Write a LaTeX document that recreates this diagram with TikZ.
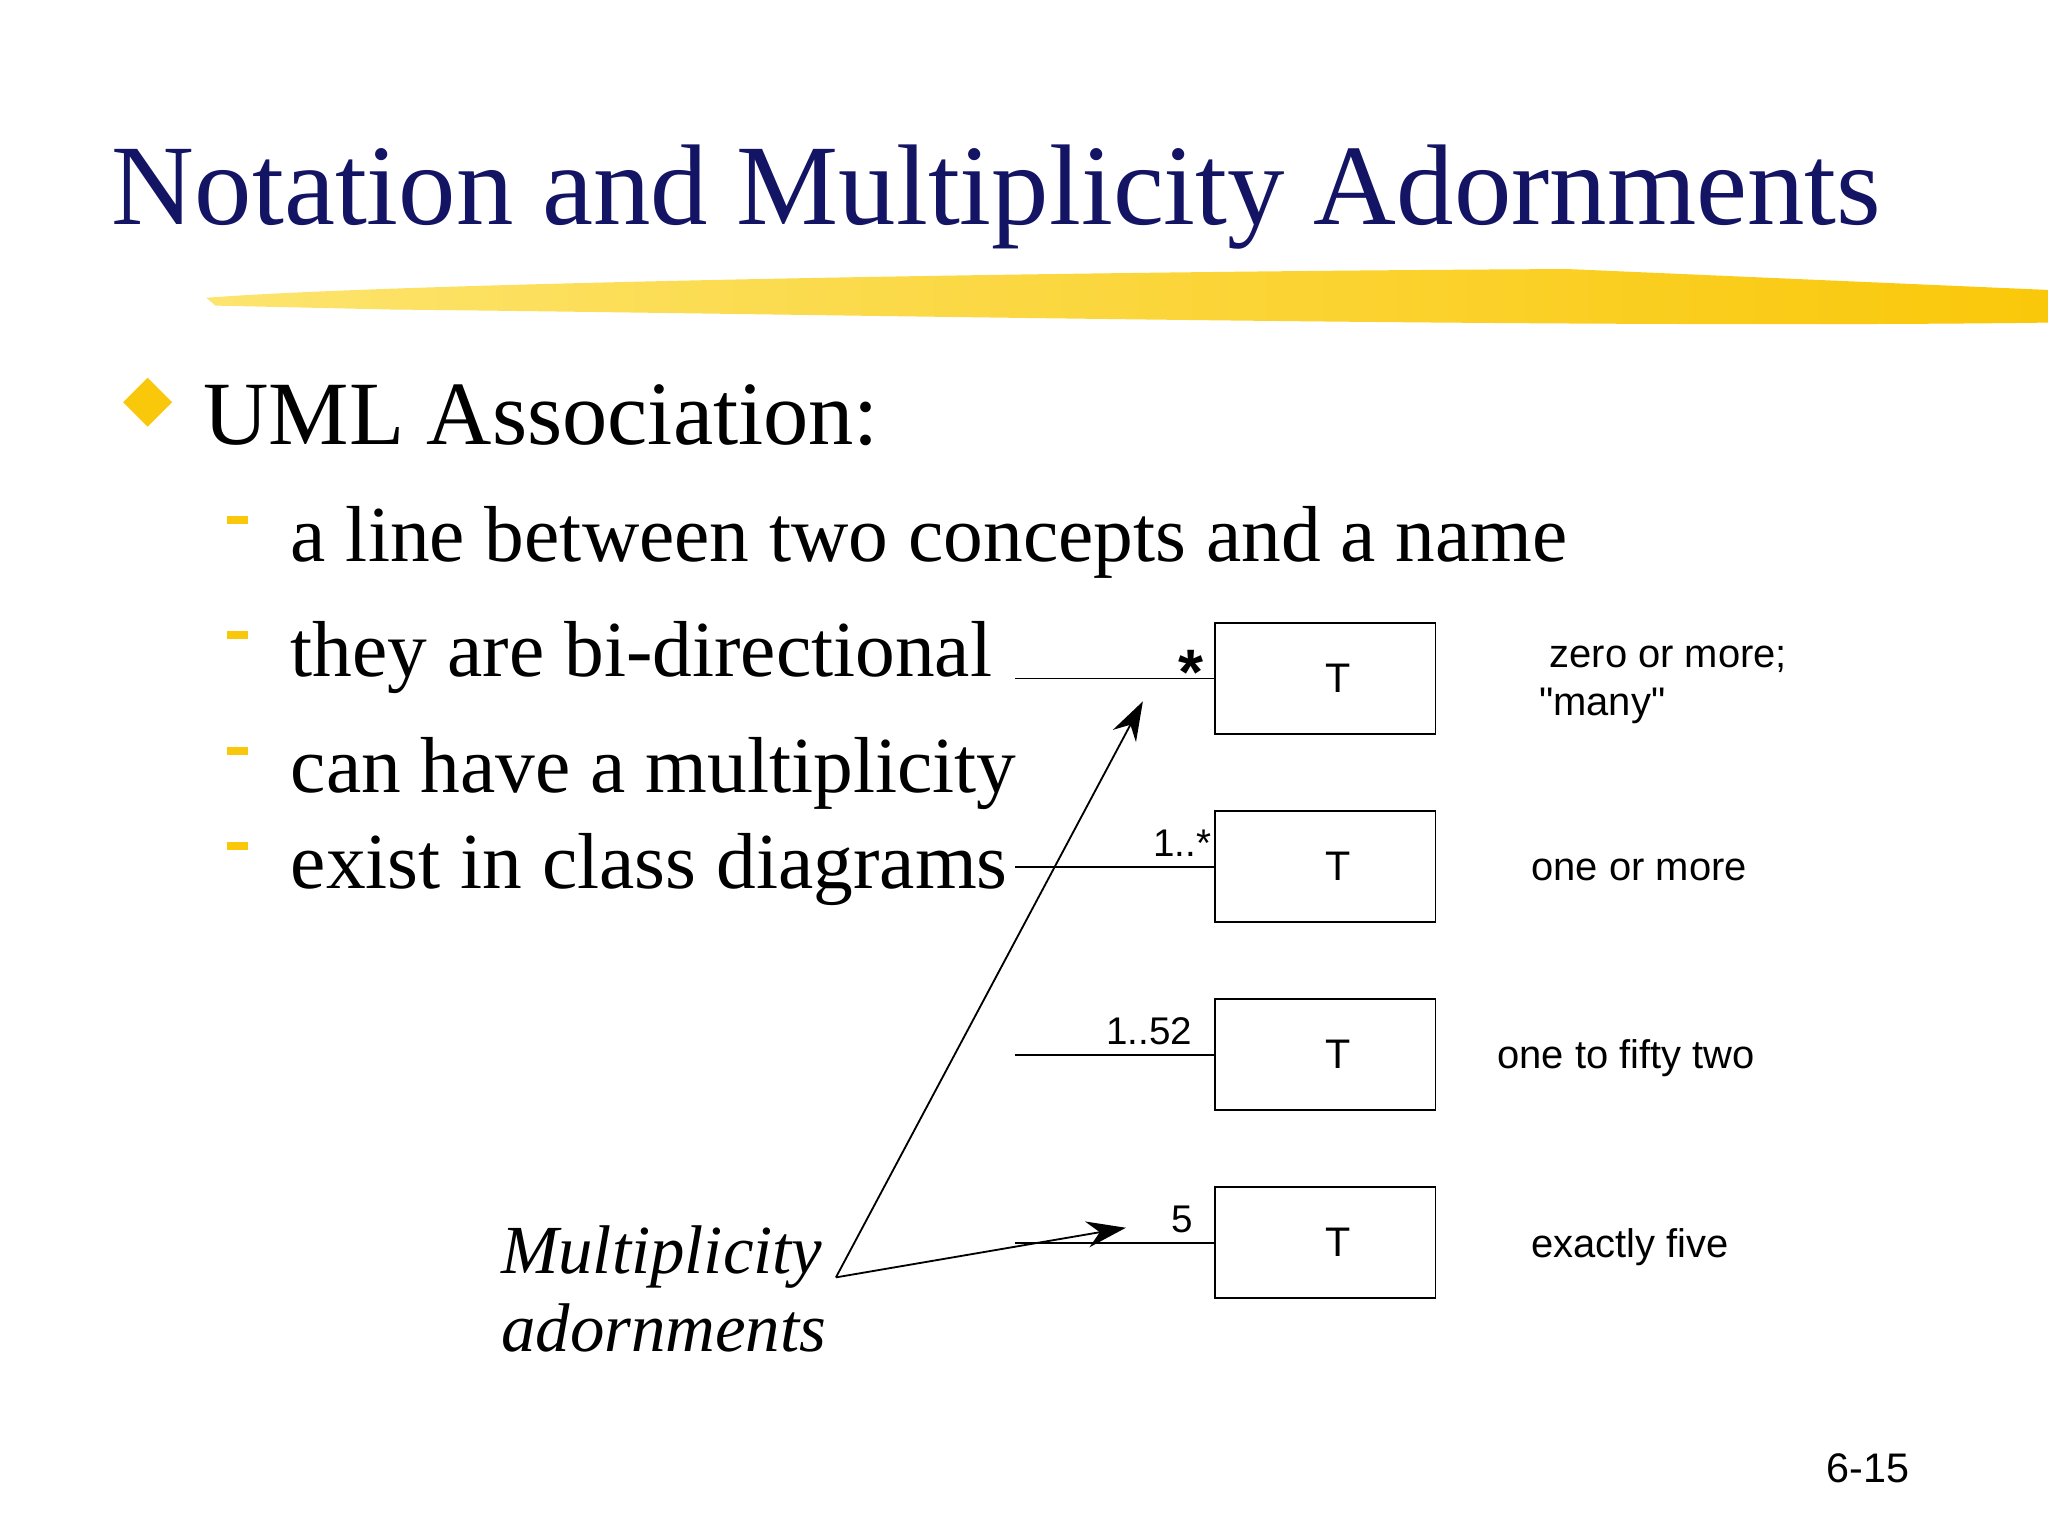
\documentclass[tikz,border=0pt]{standalone}
\usepackage{fontspec}
\setmainfont{Liberation Serif}
\setsansfont{Liberation Sans}
\usetikzlibrary{arrows.meta,shapes.geometric}
\definecolor{navy}{RGB}{20,20,100}
\definecolor{gold}{RGB}{250,200,10}
\definecolor{lightgold}{RGB}{252,228,110}
\tikzset{
  tbox/.style={draw,minimum width=1.69cm,minimum height=0.85cm,inner sep=0pt,font=\sffamily\fontsize{9}{10}\selectfont},
  desc/.style={font=\sffamily\fontsize{8.7}{10}\selectfont},
  mult/.style={font=\sffamily\fontsize{8.4}{10}\selectfont,anchor=base},
  sub/.style={anchor=base west,font=\fontsize{17.3}{20}\selectfont},
  dashmark/.style={fill=gold,draw=none},
  adorn/.style={-{Stealth[length=3mm,width=2mm]},thin}
}
\begin{document}
\begin{tikzpicture}[x=1cm,y=1cm]
\useasboundingbox (0,0) rectangle (15.68,-11.76);
% brush
\shade[left color=lightgold,right color=gold,draw=none]
 (1.58,-2.28) .. controls (3,-2.17) and (8,-2.08) .. (12,-2.06)
 -- (15.68,-2.22) -- (15.68,-2.47) .. controls (12,-2.52) and (6,-2.40) .. (3,-2.37)
 -- (1.65,-2.34) -- cycle;
% title
\node[anchor=base west,text=navy,font=\fontsize{25}{30}\selectfont,inner sep=0] (title) at (0.85,-1.72) {Notation and Multiplicity Adornments};
% bullet
\node[diamond,fill=gold,minimum size=0.38cm,inner sep=0] (bul) at (1.13,-3.08) {};
\node[anchor=base west,font=\fontsize{19.7}{24}\selectfont,inner sep=0] (uml) at (1.55,-3.40) {UML Association:};
% sub items
\foreach \y/\t [count=\i] in {4.30/a line between two concepts and a name,5.18/they are bi-directional,6.07/can have a multiplicity,6.80/exist in class diagrams}{
  \node[sub,inner sep=0] (s\i) at (2.22,-\y) {\t};
  \fill[dashmark] (1.74,-\y+0.35) rectangle (1.90,-\y+0.29);
}
% boxes
\foreach \y [count=\i] in {5.195,6.635,8.075,9.515}{
  \node[tbox] (b\i) at (10.145,-\y) {\hspace*{0.2cm}T};
  \coordinate (l\i) at (7.77,-\y+0.0);
  \draw[thin] (l\i) -- (b\i.west);
}
\node[mult,font=\sffamily\bfseries\fontsize{14}{14}\selectfont] (m1) at (9.12,-5.32) {*};
\node[mult] (m2) at (9.05,-6.56) {1..*};
\node[mult] (m3) at (8.80,-8.00) {1..52};
\node[mult] (m4) at (9.05,-9.44) {5};
% descriptions
\node[desc,anchor=base west] (d1) at (11.74,-5.11) {zero or more;};
\node[desc,anchor=base west] (d1b) at (11.66,-5.48) {\textquotedbl many\textquotedbl};
\node[desc] (d2) at (12.55,-6.66) {one or more};
\node[desc] (d3) at (12.45,-8.10) {one to fifty two};
\node[desc] (d4) at (12.48,-9.55) {exactly five};
% adornments
\node[anchor=base west,font=\itshape\fontsize{15}{20}\selectfont,inner sep=0] (ad1) at (3.83,-9.75) {Multiplicity};
\node[anchor=base west,font=\itshape\fontsize{15}{20}\selectfont,inner sep=0] (ad2) at (3.83,-10.35) {adornments};
\coordinate (src) at (6.40,-9.78);
\coordinate (t1) at (8.75,-5.37);
\coordinate (t2) at (8.62,-9.40);
\draw[adorn] (src) -- (t1);
\draw[adorn] (src) -- (t2);
\node[desc,anchor=base,font=\sffamily\fontsize{9}{10}\selectfont] (pg) at (14.30,-11.35) {6-15};
\end{tikzpicture}
\end{document}
